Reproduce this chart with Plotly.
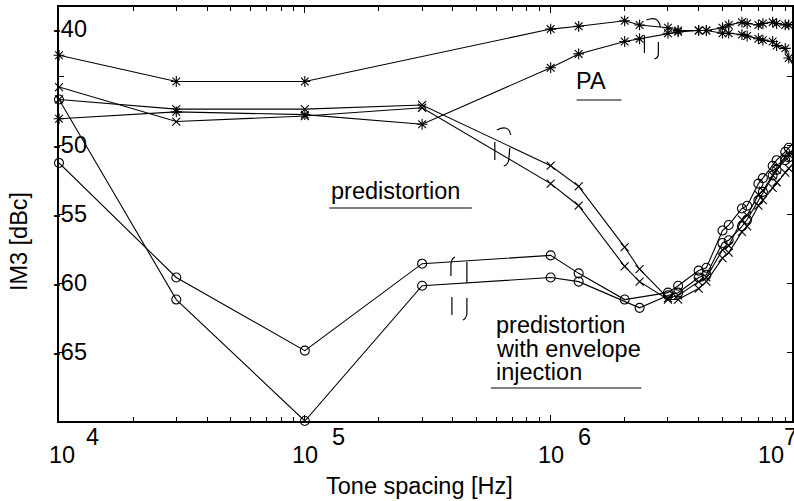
import plotly.graph_objects as go

# ---------------- data ----------------
freq_pa_upper = [1e4, 3e4, 1e5, 1e6, 1.3e6, 2e6, 2.3e6, 3e6, 3.3e6, 4e6, 4.3e6, 5e6, 5.3e6,
                 6e6, 6.3e6, 7e6, 7.3e6, 8e6, 8.3e6, 9e6, 9.3e6, 1e7]
im3_pa_upper = [-43.5, -45.4, -45.4, -41.6, -41.4, -41.0, -41.3, -41.5, -41.7, -41.7, -41.7, -41.5, -41.3,
                -41.1, -41.2, -41.3, -41.2, -41.1, -41.2, -41.3, -41.3, -41.2]

freq_pa_lower = [1e4, 3e4, 1e5, 3e5, 1e6, 1.3e6, 2e6, 2.3e6, 3e6, 3.3e6, 4e6, 4.3e6, 5e6, 5.3e6,
                 6e6, 6.3e6, 7e6, 7.3e6, 8e6, 8.3e6, 9e6, 9.3e6, 1e7]
im3_pa_lower = [-48.1, -47.6, -47.8, -48.5, -44.4, -43.4, -42.5, -42.3, -41.9, -41.8, -41.7, -41.7, -41.9, -41.9,
                -42.0, -42.1, -42.3, -42.4, -42.5, -42.8, -43.0, -43.7, -44.6]

freq_pred = [1e4, 3e4, 1e5, 3e5, 1e6, 1.3e6, 2e6, 2.3e6, 3e6, 3.3e6, 4e6, 4.3e6, 5e6, 5.3e6,
             6e6, 6.3e6, 7e6, 7.3e6, 8e6, 8.3e6, 9e6, 9.3e6, 1e7]
im3_pred_a = [-45.8, -48.3, -47.9, -47.3, -52.8, -54.4, -58.8, -59.9, -61.2, -61.2, -60.4, -59.9, -58.2, -57.8,
              -56.3, -55.9, -54.4, -54.0, -53.1, -52.7, -52.0, -51.7, -51.1]
im3_pred_b = [-46.7, -47.4, -47.4, -47.1, -51.5, -53.0, -57.4, -59.0, -61.1, -60.9, -59.9, -59.6, -57.6, -57.3,
              -55.4, -55.1, -53.6, -53.3, -52.2, -51.8, -50.9, -50.7, -50.4]

freq_env_a = [1e4, 3e4, 1e5, 3e5, 1e6, 1.3e6, 2.3e6, 3e6, 3.3e6, 4e6, 4.3e6, 5e6, 5.3e6,
              6e6, 6.3e6, 7e6, 7.3e6, 8e6, 8.3e6, 9e6, 9.3e6, 1e7]
im3_env_a = [-46.7, -61.2, -70.0, -60.2, -59.6, -59.9, -61.8, -60.9, -60.7, -59.6, -59.4, -57.1, -56.9,
             -55.9, -55.4, -54.0, -53.4, -52.2, -51.8, -51.1, -50.9, -50.4]

freq_env_b = [1e4, 3e4, 1e5, 3e5, 1e6, 1.3e6, 2e6, 3e6, 3.3e6, 4e6, 4.3e6, 5e6, 5.3e6,
              6e6, 6.3e6, 7e6, 7.3e6, 8e6, 8.3e6, 9e6, 9.3e6, 1e7]
im3_env_b = [-51.3, -59.6, -64.9, -58.6, -58.0, -59.3, -61.2, -60.7, -60.2, -59.1, -58.9, -56.2, -55.8,
             -54.6, -54.4, -52.8, -52.4, -51.5, -51.1, -50.5, -50.2, -49.6]

x_major = [1e4, 1e5, 1e6, 1e7]
x_minor = [m * d for d in (1e4, 1e5, 1e6) for m in range(2, 10)]
y_ticks = [-65, -60, -55, -50, -45]
y_labels = ["-40", "-50", "-55", "-60", "-65"]
y_label_vals = [-40, -50, -55, -60, -65]
x_label_exps = ["4", "5", "6"]

# ---------------- geometry helpers ----------------
W, H = 794, 501
L, T, B = 59, 7, 80
PW = W - L
PH = H - T - B
DECADE = 246.5
FONT = "Liberation Sans, Arial, Helvetica, sans-serif"
FS = 23.5


def xp(x):
    return (x - L) / PW


def yp(y):
    return (H - B - y) / PH


def path(cmds):
    out = []
    for c, pts in cmds:
        out.append(c + " " + " ".join(f"{xp(a):.5f},{yp(b):.5f}" for a, b in pts))
    return " ".join(out)


fig = go.Figure()

series = [
    (freq_pa_upper, im3_pa_upper, "asterisk-open", 9),
    (freq_pa_lower, im3_pa_lower, "asterisk-open", 9),
    (freq_pred, im3_pred_a, "x-thin-open", 8),
    (freq_pred, im3_pred_b, "x-thin-open", 8),
    (freq_env_a, im3_env_a, "circle-open", 9),
    (freq_env_b, im3_env_b, "circle-open", 9),
]
for fx, fy, sym, sz in series:
    fig.add_trace(go.Scatter(
        x=fx, y=fy, mode="lines+markers",
        line=dict(color="black", width=1.1),
        marker=dict(symbol=sym, size=sz, color="black", line=dict(color="black", width=1.1)),
        cliponaxis=False, showlegend=False, hoverinfo="skip"))

fig.update_layout(
    width=W, height=H,
    margin=dict(l=L, r=0, t=T, b=B, pad=0),
    plot_bgcolor="white", paper_bgcolor="white",
    showlegend=False,
    font=dict(family=FONT, size=FS, color="black"),
    xaxis=dict(type="log", range=[4, 4 + PW / DECADE],
               showline=True, linecolor="black", linewidth=2, mirror="allticks",
               ticks="inside", ticklen=6, tickwidth=1, tickcolor="black",
               tickmode="array", tickvals=x_major, showticklabels=False,
               showgrid=False, zeroline=False,
               minor=dict(ticks="inside", ticklen=4, tickwidth=1, tickcolor="black",
                          tickmode="array", tickvals=x_minor, showgrid=False)),
    yaxis=dict(range=[-70, -40],
               showline=True, linecolor="black", linewidth=2, mirror="allticks",
               ticks="inside", ticklen=5, tickwidth=1, tickcolor="black",
               tickmode="array", tickvals=y_ticks, showticklabels=False,
               showgrid=False, zeroline=False),
)

ann = []
# y tick labels
for txt, v in zip(y_labels, y_label_vals):
    ann.append(dict(text=txt, xref="paper", yref="y", x=xp(51), y=v,
                    yshift=-22 if v == -40 else 0,
                    xanchor="left", yanchor="middle", showarrow=False))
# x tick labels  10^n
for e in x_label_exps:
    ann.append(dict(text="10", xref="x", yref="paper", x=int(e), y=yp(455),
                    xshift=3 if e == "4" else 0,
                    xanchor="center", yanchor="middle", showarrow=False))
    ann.append(dict(text=e, xref="x", yref="paper", x=int(e), y=yp(437), xshift=25,
                    xanchor="left", yanchor="middle", showarrow=False))
ann.append(dict(text="10", xref="paper", yref="paper", x=xp(773), y=yp(455),
                xanchor="center", yanchor="middle", showarrow=False))
ann.append(dict(text="7", xref="paper", yref="paper", x=xp(784), y=yp(437),
                xanchor="left", yanchor="middle", showarrow=False))
# axis titles
ann.append(dict(text="Tone spacing [Hz]", xref="paper", yref="paper", x=xp(420), y=yp(486),
                xanchor="center", yanchor="middle", showarrow=False))
ann.append(dict(text="IM3 [dBc]", xref="paper", yref="paper", x=xp(19), y=yp(242), textangle=-90,
                xanchor="center", yanchor="middle", showarrow=False))
# curve labels
ann.append(dict(text="PA", xref="paper", yref="paper", x=xp(575), y=yp(81),
                xanchor="left", yanchor="middle", showarrow=False))
ann.append(dict(text="predistortion", xref="paper", yref="paper", x=xp(330), y=yp(191),
                xanchor="left", yanchor="middle", showarrow=False))
for txt, cy in (("predistortion", 325), ("with envelope", 349), ("injection", 372)):
    ann.append(dict(text=txt, xref="paper", yref="paper", x=xp(495), y=yp(cy),
                    xanchor="left", yanchor="middle", showarrow=False))
fig.update_layout(annotations=ann)

# callout lines and brackets (pixel geometry)
callouts = [
    # PA
    [("M", [(578, 100)]), ("L", [(623, 100), (657, 59)])],
    [("M", [(648, 20)]), ("Q", [(660, 15), (662, 27)])],
    [("M", [(646, 35)]), ("L", [(646, 53)])],
    [("M", [(660, 42)]), ("L", [(660, 54)]), ("Q", [(660, 58), (656, 59)])],
    # predistortion
    [("M", [(330, 208)]), ("L", [(473, 208), (505, 166)])],
    [("M", [(498, 130)]), ("Q", [(510, 124), (512, 135)])],
    [("M", [(496, 142)]), ("L", [(496, 160)])],
    [("M", [(511, 148)]), ("L", [(510, 160)]), ("Q", [(509, 165), (505, 166)])],
    # predistortion with envelope injection
    [("M", [(643, 388)]), ("L", [(492, 388), (462, 321)])],
    [("M", [(456, 257)]), ("Q", [(452, 259), (452, 265)]), ("L", [(452, 276)])],
    [("M", [(468, 262)]), ("L", [(468, 283)])],
    [("M", [(453, 297)]), ("L", [(453, 315)])],
    [("M", [(468, 298)]), ("L", [(468, 314)]), ("Q", [(467, 319), (464, 320)])],
]
for c in callouts:
    fig.add_shape(type="path", xref="paper", yref="paper", path=path(c),
                  line=dict(color="black", width=1.2), fillcolor="rgba(0,0,0,0)")

fig.write_html("out.html", config={"displayModeBar": False, "staticPlot": True},
               post_script="document.body.style.margin='0px';document.body.style.overflow='hidden';")
